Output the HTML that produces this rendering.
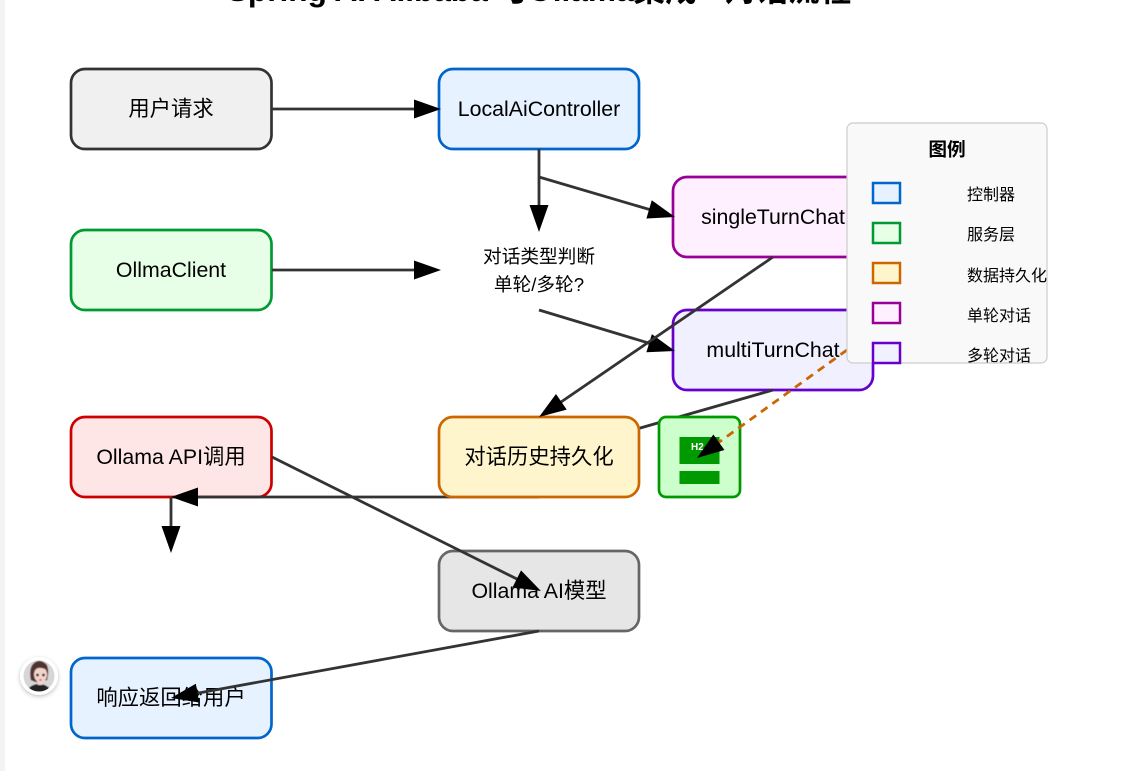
<!DOCTYPE html>
<html lang="zh">
<head>
<meta charset="utf-8">
<title>Spring AI Alibaba 与Ollama集成 - 对话流程</title>
<style>
html,body{margin:0;padding:0;width:1126px;height:771px;overflow:hidden;background:#fff}
svg{display:block;position:absolute;left:0;top:0}
text{font-family:"Liberation Sans","Noto Sans CJK SC",sans-serif;fill:#000}
.n{font-size:21.33px;text-anchor:middle;dominant-baseline:central}
.d{font-size:18.67px;text-anchor:middle}
.l{font-size:16px}
.e{stroke:#333;stroke-width:2.8;fill:none;marker-end:url(#a)}
</style>
</head>
<body>
<svg width="1126" height="771" viewBox="0 0 1126 771" xmlns="http://www.w3.org/2000/svg">
<defs>
<marker id="a" markerUnits="userSpaceOnUse" markerWidth="28" markerHeight="20" refX="17" refY="9.5" orient="auto" overflow="visible">
<path d="M0,0 L27,9.500 L0,19 Z" fill="#000"/>
</marker>
<clipPath id="av"><circle cx="39" cy="676" r="15.5"/></clipPath>
<filter id="sh" x="-30%" y="-30%" width="160%" height="160%"><feDropShadow dx="0" dy="1.500" stdDeviation="2" flood-color="#000" flood-opacity=".25"/></filter>
<filter id="bl"><feGaussianBlur stdDeviation=".4"/></filter>
</defs>
<rect x="0" y="0" width="5" height="771" fill="#f3f3f3"/>
<text x="539" y="1" text-anchor="middle" style="font-size:31.6px;font-weight:bold">Spring AI Alibaba 与Ollama集成 - 对话流程</text>

<!-- first nodes -->
<rect x="71" y="69" width="200.500" height="80" rx="14" fill="#f0f0f0" stroke="#333" stroke-width="2.700"/>
<text class="n" x="171" y="109">用户请求</text>
<rect x="439" y="69" width="200" height="80" rx="14" fill="#e6f2ff" stroke="#0066cc" stroke-width="2.700"/>
<text class="n" x="539" y="109">LocalAiController</text>
<rect x="71" y="230" width="200.500" height="80" rx="14" fill="#e6ffe6" stroke="#009933" stroke-width="2.700"/>
<text class="n" x="171" y="270">OllmaClient</text>
<rect x="673" y="177" width="200" height="80" rx="14" fill="#fff0ff" stroke="#990099" stroke-width="2.700"/>
<text class="n" x="773" y="217">singleTurnChat</text>
<rect x="673" y="310" width="200" height="80" rx="14" fill="#f0f0ff" stroke="#6600cc" stroke-width="2.700"/>
<text class="n" x="773" y="350">multiTurnChat</text>
<rect x="71" y="417" width="200.500" height="80" rx="14" fill="#ffe6e6" stroke="#cc0000" stroke-width="2.700"/>
<text class="n" x="171" y="457">Ollama API调用</text>

<!-- connectors behind persistence node -->
<line x1="773" y1="390" x2="539" y2="457" stroke="#333" stroke-width="2.800"/>
<line class="e" x1="539" y1="497" x2="181" y2="497"/>
<line class="e" x1="171" y1="497" x2="171" y2="543"/>

<rect x="439" y="417" width="200" height="80" rx="14" fill="#fff5cc" stroke="#cc6600" stroke-width="2.700"/>
<text class="n" x="539" y="457">对话历史持久化</text>
<rect x="659" y="417" width="81" height="80" rx="7" fill="#ccffcc" stroke="#009900" stroke-width="2.700"/>
<rect x="679.500" y="437" width="40" height="27" fill="#009900"/>
<rect x="679.500" y="471" width="40" height="13" fill="#009900"/>
<text x="691" y="450" style="font-size:10px;font-weight:bold;fill:#fff">H2 DB</text>
<rect x="439" y="551" width="200" height="80" rx="14" fill="#e6e6e6" stroke="#666" stroke-width="2.700"/>
<text class="n" x="539" y="591">Ollama AI模型</text>
<rect x="71" y="658" width="200.500" height="80" rx="14" fill="#e6f2ff" stroke="#0066cc" stroke-width="2.700"/>
<text class="n" x="171" y="698">响应返回给用户</text>

<text class="d" x="539" y="263">对话类型判断</text>
<text class="d" x="539" y="291">单轮/多轮?</text>

<!-- connectors -->
<line class="e" x1="272" y1="109" x2="431" y2="109"/>
<line class="e" x1="539" y1="149" x2="539" y2="222"/>
<line class="e" x1="272" y1="270" x2="431" y2="270"/>
<line class="e" x1="539" y1="177" x2="665.400" y2="214.200"/>
<line class="e" x1="539" y1="310" x2="665.400" y2="348.100"/>
<line class="e" x1="773" y1="257" x2="547.300" y2="411.400"/>
<line class="e" x1="272" y1="457" x2="532" y2="586.500"/>
<line class="e" x1="539" y1="631" x2="180.800" y2="696.200"/>
<line x1="847" y1="350" x2="705.100" y2="452.200" stroke="#cc6600" stroke-width="2.800" stroke-dasharray="8,6" marker-end="url(#a)"/>

<!-- legend -->
<rect x="847" y="123" width="200" height="240" rx="6" fill="#f9f9f9" stroke="#ccc" stroke-width="1.200"/>
<text x="947" y="156" text-anchor="middle" style="font-size:18.67px;font-weight:bold">图例</text>
<rect x="873" y="183" width="27" height="20" fill="#e6f2ff" stroke="#0066cc" stroke-width="2.500"/>
<text class="l" x="967" y="200">控制器</text>
<rect x="873" y="223" width="27" height="20" fill="#e6ffe6" stroke="#009933" stroke-width="2.500"/>
<text class="l" x="967" y="240">服务层</text>
<rect x="873" y="263" width="27" height="20" fill="#fff5cc" stroke="#cc6600" stroke-width="2.500"/>
<text class="l" x="967" y="281">数据持久化</text>
<rect x="873" y="303" width="27" height="20" fill="#fff0ff" stroke="#990099" stroke-width="2.500"/>
<text class="l" x="967" y="321">单轮对话</text>
<rect x="873" y="343" width="27" height="20" fill="#f0f0ff" stroke="#6600cc" stroke-width="2.500"/>
<text class="l" x="967" y="361">多轮对话</text>

<!-- avatar -->
<circle cx="39" cy="676" r="19" fill="#fff" filter="url(#sh)"/>
<g clip-path="url(#av)">
<rect x="22" y="660" width="34" height="32" fill="#d6d6d6"/>
<g filter="url(#bl)">
<path d="M27,692 Q29,685 39,684 Q49,685 51,692 Z" fill="#222"/>
<path d="M31,680 Q28,663 39,661 Q49,662 48,674 L47,680 L36,682 Z" fill="#4f362e"/>
<ellipse cx="40.500" cy="674.500" rx="6.500" ry="8" fill="#f3d3cb"/>
<path d="M34,672 Q37,665 47,670 L47,665 L38,663 Z" fill="#4f362e"/>
<rect x="38" y="681" width="4" height="4" fill="#f3d3cb"/>
<circle cx="37.500" cy="675" r="1.400" fill="#2a2a2a"/>
<circle cx="43.500" cy="675" r="1.400" fill="#2a2a2a"/>
<ellipse cx="40.500" cy="680" rx="1.500" ry=".7" fill="#c8505a"/>
</g>
</g>
</svg>
</body>
</html>
